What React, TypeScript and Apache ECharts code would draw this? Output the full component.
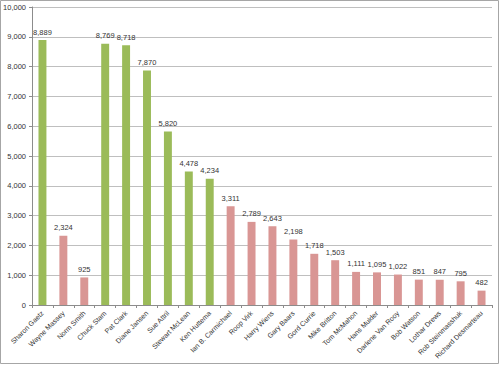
import React, { useEffect, useRef } from "react";
import * as echarts from "echarts";

const categories = [
  "Sharon Gaetz", "Wayne Massey", "Norm Smith", "Chuck Stam", "Pat Clark", "Diane Jansen",
  "Sue Attril", "Stewart McLean", "Ken Huttema", "Ian B. Carmichael", "Roop Virk", "Harry Wiens",
  "Gary Baars", "Gord Currie", "Mike Britton", "Tom McMahon", "Hans Mulder", "Darlene Van Rooy",
  "Bob Watson", "Lothar Drews", "Rob Steinmasshuk", "Richard Desmarteau",
];
const values = [
  8889, 2324, 925, 8769, 8718, 7870, 5820, 4478, 4234, 3311, 2789, 2643,
  2198, 1718, 1503, 1111, 1095, 1022, 851, 847, 795, 482,
];
const groups = [
  "g", "p", "p", "g", "g", "g", "g", "g", "g", "p", "p", "p",
  "p", "p", "p", "p", "p", "p", "p", "p", "p", "p",
];
const yTicks = [0, 1000, 2000, 3000, 4000, 5000, 6000, 7000, 8000, 9000, 10000];

const GREEN = "#9BBB59";
const PINK = "#D99694";

const fmt = (v: number) => v.toLocaleString("en-US");

export default function App() {
  const ref = useRef<HTMLDivElement>(null);
  useEffect(() => {
    if (!ref.current) return;
    const chart = echarts.init(ref.current, undefined, { renderer: "svg" });
    const font = "Liberation Sans, Arial, sans-serif";
    chart.setOption({
      animation: false,
      backgroundColor: "#ffffff",
      textStyle: { fontFamily: font },
      grid: { left: 32, right: 8, top: 7, bottom: 60, containLabel: false },
      graphic: [
        {
          type: "rect",
          shape: { x: 0.5, y: 0.5, width: 498, height: 363 },
          style: { fill: "none", stroke: "#a6a6a6", lineWidth: 1 },
          silent: true,
        },
      ],
      xAxis: {
        type: "category",
        data: categories,
        axisLine: { lineStyle: { color: "#8c8c8c" } },
        axisTick: { show: true, length: 3, lineStyle: { color: "#8c8c8c" } },
        axisLabel: {
          rotate: 45,
          fontSize: 7,
          color: "#333333",
          fontFamily: font,
          interval: 0,
          margin: 7,
        },
      },
      yAxis: {
        type: "value",
        min: 0,
        max: yTicks[yTicks.length - 1],
        interval: 1000,
        axisLine: { show: true, lineStyle: { color: "#8c8c8c" } },
        axisTick: { show: true, length: 3, lineStyle: { color: "#8c8c8c" } },
        splitLine: { lineStyle: { color: "#bfbfbf", width: 1 } },
        axisLabel: {
          fontSize: 7.5,
          color: "#333333",
          fontFamily: font,
          margin: 6,
          formatter: (v: number) => fmt(v),
        },
      },
      series: [
        {
          type: "bar",
          barWidth: "38%",
          data: values.map((v, i) => ({
            value: v,
            itemStyle: { color: groups[i] === "g" ? GREEN : PINK },
          })),
          label: {
            show: true,
            position: "top",
            distance: 4,
            fontSize: 7.5,
            color: "#333333",
            fontFamily: font,
            formatter: (p: any) => fmt(p.value),
          },
        },
      ],
    });
    return () => chart.dispose();
  }, []);
  return (
    <div
      ref={ref}
      style={{ position: "fixed", left: 0, top: 0, width: 500, height: 365 }}
    />
  );
}
